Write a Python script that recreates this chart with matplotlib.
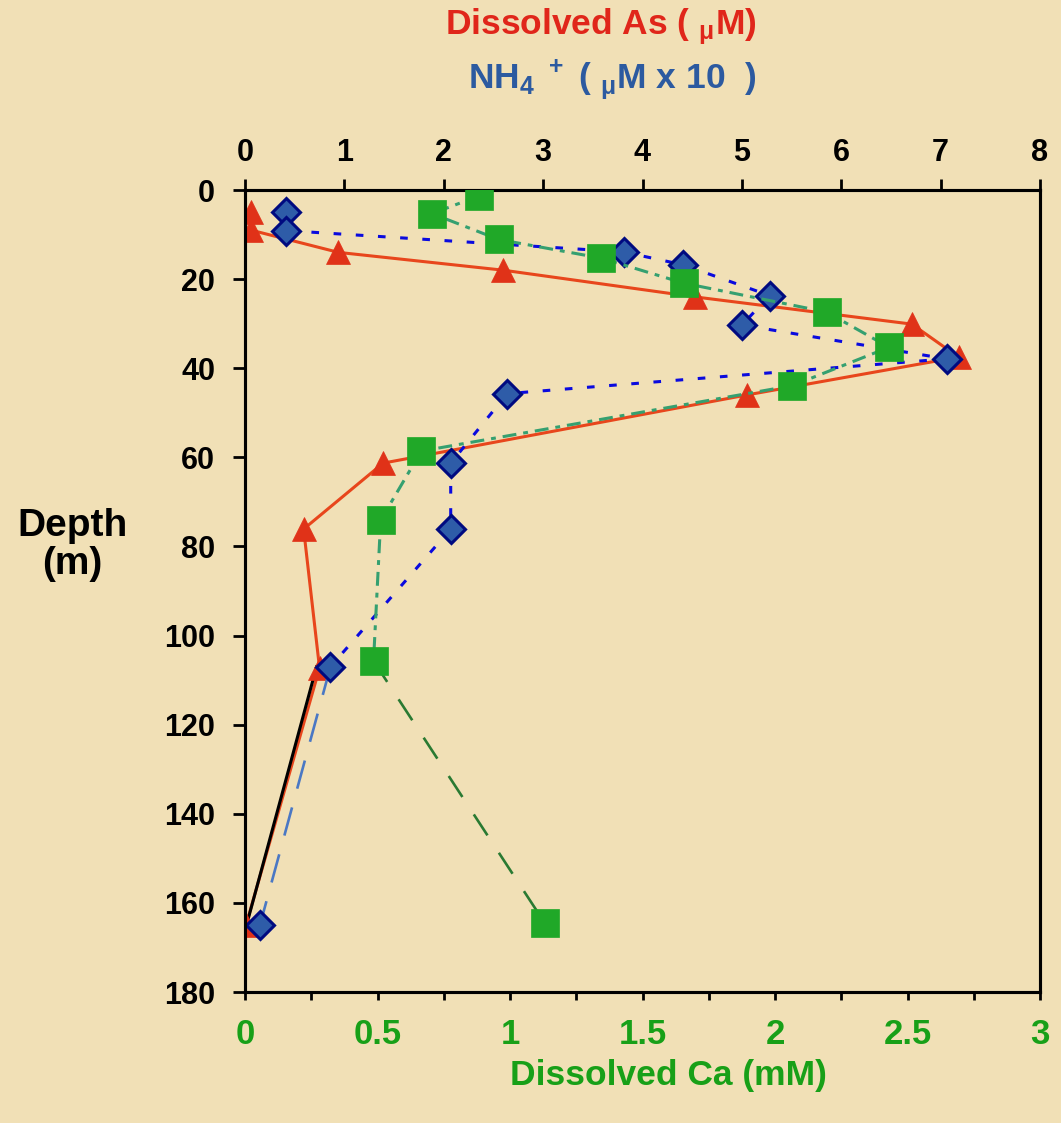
import matplotlib
matplotlib.use("Agg")
import matplotlib.pyplot as plt
from matplotlib.ticker import MultipleLocator

plt.rcParams['font.family'] = ['Liberation Sans', 'DejaVu Sans']
plt.rcParams['font.weight'] = 'bold'
plt.rcParams['mathtext.default'] = 'regular'
plt.rcParams['lines.scale_dashes'] = False

# ---- data ----
as_conc = [0.06, 0.06, 0.94, 2.60, 4.53, 6.71, 7.18, 5.05, 1.39, 0.59, 0.75, 0.01]
as_depth = [4.9, 9.0, 14.0, 18.0, 24.0, 30.1, 37.5, 46.0, 61.3, 76.1, 107.3, 165.0]

nh4_conc = [0.41, 0.41, 3.81, 4.41, 5.28, 5.00, 7.06, 2.64, 2.07, 2.07, 0.86, 0.15]
nh4_depth = [4.9, 9.1, 13.9, 16.8, 23.7, 30.3, 37.9, 45.7, 61.3, 76.1, 107.0, 165.0]

ca_conc = [0.884, 0.706, 0.957, 1.345, 1.655, 2.195, 2.43, 2.066, 0.665, 0.512, 0.485, 1.131]
ca_depth = [1.3, 5.3, 11.1, 15.3, 20.9, 27.4, 35.3, 43.9, 58.6, 74.1, 105.7, 164.5]

black_conc = [0.72, 0.01]
black_depth = [107.0, 165.4]

top_ticks = [0, 1, 2, 3, 4, 5, 6, 7, 8]
bottom_ticks = [0, 0.5, 1, 1.5, 2, 2.5, 3]
bottom_labels = ['0', '0.5', '1', '1.5', '2', '2.5', '3']
depth_ticks = [0, 20, 40, 60, 80, 100, 120, 140, 160, 180]

W, H = 1061, 1123
bg = '#f1e0b6'
fig = plt.figure(figsize=(W / 100, H / 100), dpi=100, facecolor=bg)
ax = fig.add_axes([245 / W, 1 - 992 / H, (1040 - 245) / W, (992 - 190) / H])
ax.set_facecolor(bg)

# As (red)
ax.plot(as_conc, as_depth, '-', color='#e8461c', lw=2.2, zorder=3)
ax.plot(black_conc, black_depth, '-', color='black', lw=2.2, zorder=3)
ax.plot(as_conc, as_depth, ls='none', marker='^', ms=17.5, color='#e03218',
        markeredgecolor='#e03218', markeredgewidth=0.5, zorder=4)

# NH4 (blue)
ax.plot(nh4_conc[:11], nh4_depth[:11], color='#0a0ade', lw=2.2,
        dashes=(5.5, 10.5), zorder=5)
ax.plot(nh4_conc[10:], nh4_depth[10:], color='#4a78c4', lw=1.9,
        dashes=(21, 14), zorder=5)
ax.plot(nh4_conc, nh4_depth, ls='none', marker='D', ms=14.5,
        markerfacecolor='#2e5ca8', markeredgecolor='#000a80',
        markeredgewidth=2.2, zorder=6)

ax.set_xlim(0, 8)
ax.set_ylim(180, 0)

# Ca (green) on twin axis
ax2 = ax.twiny()
ax2.plot(ca_conc[:11], ca_depth[:11], color='#35a070', lw=2.2,
         dashes=(10, 5, 3.5, 5), zorder=3)
ax2.plot(ca_conc[10:], ca_depth[10:], color='#2a7a32', lw=1.9,
         dashes=(18, 15), zorder=3)
ax2.plot(ca_conc, ca_depth, ls='none', marker='s', ms=19.5,
         markerfacecolor='#20a828', markeredgecolor='#20a828',
         markeredgewidth=0.5, zorder=4)
ax2.set_xlim(0, 3)
ax2.set_ylim(180, 0)

# top axis (As / NH4)
ax.xaxis.set_ticks_position('top')
ax.xaxis.set_label_position('top')
ax.set_xticks(top_ticks)
ax.set_yticks(depth_ticks)
ax.tick_params(axis='x', direction='out', length=8, width=2, labelsize=22,
               pad=8, colors='black', top=True, labeltop=True,
               bottom=False, labelbottom=False)
ax.tick_params(axis='y', direction='out', length=8.5, width=2, labelsize=22,
               pad=13, colors='black')
for lab in ax.get_xticklabels() + ax.get_yticklabels():
    lab.set_fontweight('bold')

# bottom axis (Ca)
ax2.xaxis.set_ticks_position('bottom')
ax2.xaxis.set_label_position('bottom')
ax2.set_xticks(bottom_ticks)
ax2.set_xticklabels(bottom_labels)
ax2.xaxis.set_minor_locator(MultipleLocator(0.25))
ax2.tick_params(axis='x', which='both', direction='out', length=6, width=2,
                labelsize=25, pad=13, labelcolor='#18a018', color='black',
                bottom=True, labelbottom=True, top=False, labeltop=False)
for lab in ax2.get_xticklabels():
    lab.set_fontweight('bold')

for a in (ax, ax2):
    for s in a.spines.values():
        s.set_linewidth(2.2)
        s.set_color('black')

# labels
fig.text(668 / W, 1 - 1076 / H, 'Dissolved Ca (mM)', color='#18a018',
         fontsize=25.5, fontweight='bold', ha='center', va='center')
fig.text(72 / W, 1 - 545 / H, 'Depth\n(m)', color='black', fontsize=28,
         fontweight='bold', ha='center', va='center', linespacing=1.1)
fig.text(601 / W, 1 - 27 / H, 'Dissolved As ( $_{μ}$M)', color='#e0261a',
         fontsize=25.5, fontweight='bold', ha='center', va='center')
fig.text(612 / W, 1 - 80 / H, 'NH$_4$$^{\\ +}$ ( $_{μ}$M x 10  )', color='#2c5aa0',
         fontsize=25.5, fontweight='bold', ha='center', va='center')

fig.savefig('out.png', dpi=100, facecolor=bg)
